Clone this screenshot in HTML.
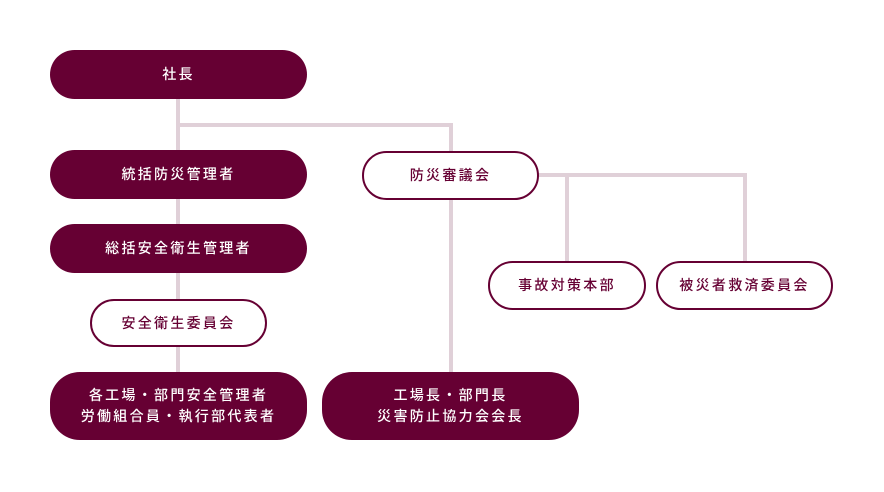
<!DOCTYPE html>
<html><head><meta charset="utf-8"><style>
body{margin:0;width:884px;height:492px;background:#fff;position:relative;overflow:hidden;font-family:"Liberation Sans","Noto Sans CJK JP",sans-serif}
.l{position:absolute;background:#e0d0d8}
.n{position:absolute;box-sizing:border-box;border-radius:26px;display:flex;align-items:center;justify-content:center;text-align:center;font-size:14px;letter-spacing:2.3px;line-height:21px;font-weight:500}
.d{background:#660033;color:#fff}
.o{background:#fff;border:2px solid #660033;color:#660033}
</style></head><body>
<div class="l" style="left:176px;top:95px;width:4px;height:280px"></div>
<div class="l" style="left:176px;top:123px;width:277px;height:4px"></div>
<div class="l" style="left:449px;top:123px;width:4px;height:252px"></div>
<div class="l" style="left:535px;top:173px;width:212px;height:4px"></div>
<div class="l" style="left:565px;top:173px;width:4px;height:90px"></div>
<div class="l" style="left:743px;top:173px;width:4px;height:90px"></div>

<div class="n d" style="left:50px;top:50px;width:257px;height:49px">社長</div>
<div class="n d" style="left:50px;top:150px;width:257px;height:49px">統括防災管理者</div>
<div class="n d" style="left:50px;top:224px;width:257px;height:49px">総括安全衛生管理者</div>
<div class="n o" style="left:90px;top:299px;width:177px;height:48px">安全衛生委員会</div>
<div class="n d" style="left:50px;top:372px;width:257px;height:68px;border-radius:30px">各工場・部門安全管理者<br>労働組合員・執行部代表者</div>
<div class="n o" style="left:362px;top:151px;width:177px;height:49px">防災審議会</div>
<div class="n o" style="left:488px;top:261px;width:158px;height:49px">事故対策本部</div>
<div class="n o" style="left:656px;top:261px;width:177px;height:49px">被災者救済委員会</div>
<div class="n d" style="left:322px;top:372px;width:257px;height:68px;border-radius:30px">工場長・部門長<br>災害防止協力会会長</div>
</body></html>
